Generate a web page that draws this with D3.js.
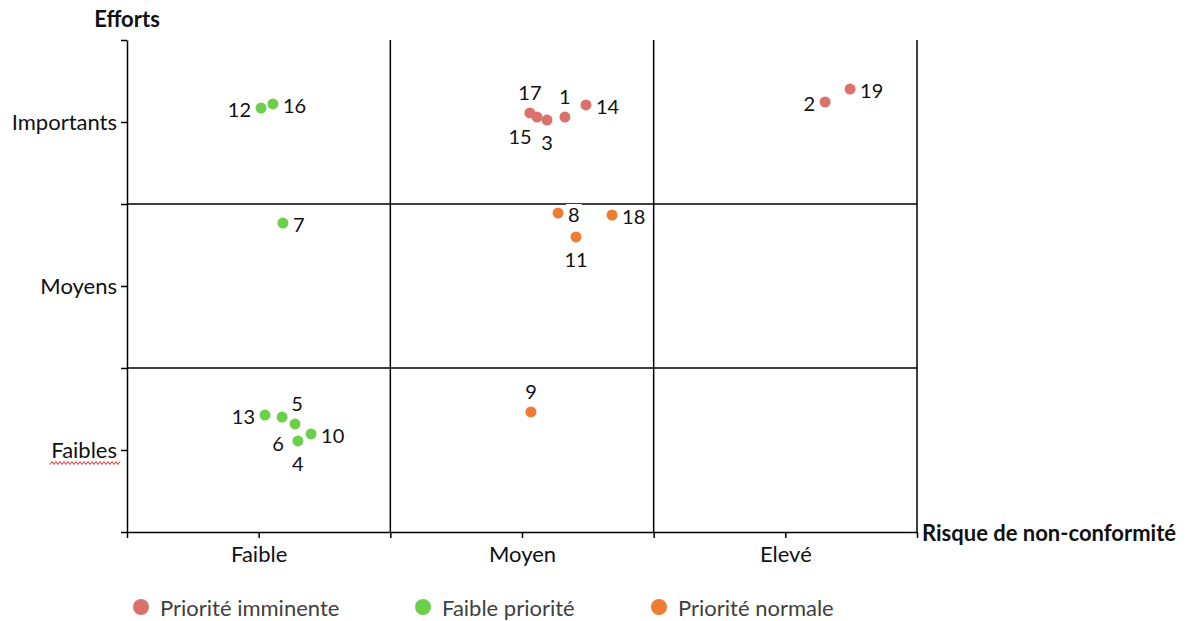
<!DOCTYPE html>
<html><head><meta charset="utf-8">
<script src="https://cdn.jsdelivr.net/npm/d3@7"></script>
<style>
body{margin:0;background:#fff;}
svg text{font-family:Lato,"Open Sans",sans-serif;}
</style></head>
<body><svg id="chart" width="1188" height="621"></svg>
<script>
// ---- data ----
const riskCategories = ['Faible', 'Moyen', 'Elevé'];
const effortCategories = ['Faibles', 'Moyens', 'Importants'];
const pointIds =    [1, 2, 3, 4, 5, 6, 7, 8, 9, 10, 11, 12, 13, 14, 15, 16, 17, 18, 19];
const riskValues =  [1.663, 2.651, 1.595, 0.649, 0.589, 0.638, 0.592, 1.637, 1.534, 0.699, 1.705, 0.509, 0.524, 1.743, 1.557, 0.554, 1.530, 1.842, 2.746];
const effortValues =[2.530, 2.622, 2.512, 0.555, 0.701, 0.659, 1.884, 1.945, 0.732, 0.598, 1.799, 2.585, 0.713, 2.604, 2.530, 2.610, 2.555, 1.933, 2.701];
const priorities =  ['imm','imm','imm','fai','fai','fai','fai','nor','nor','fai','nor','fai','fai','imm','imm','fai','imm','nor','imm'];
const labelPlacement = ['above','left','below','below','aboveRight','belowLeft','right','right','above','right','below','left','left','right','belowLeft','right','above','right','right'];
const seriesKeys = ['imm', 'fai', 'nor'];
const seriesNames = ['Priorité imminente', 'Faible priorité', 'Priorité normale'];
const seriesColors = ['#db716d', '#6ccf4a', '#ee7d31'];

// ---- layout ----
const svg = d3.select('#chart');
const x = d3.scaleLinear().domain([0, 3]).range([127, 917]);
const y = d3.scaleLinear().domain([0, 3]).range([532, 40]);
const color = d3.scaleOrdinal().domain(seriesKeys).range(seriesColors);
const FS = 20;    // data labels
const AFS = 22;   // axis text

// grid (quadrant) lines
const g = svg.append('g');
[1, 2, 3].forEach(v => g.append('line').attr('x1', x(v)).attr('x2', x(v)).attr('y1', y(3)).attr('y2', y(0))
  .attr('stroke', '#000').attr('stroke-width', 1.5));
[1, 2].forEach(v => g.append('line').attr('x1', x(0)).attr('x2', x(3)).attr('y1', y(v)).attr('y2', y(v))
  .attr('stroke', '#000').attr('stroke-width', 1.5));

// axes
const tickVals = [0, 0.5, 1, 1.5, 2, 2.5, 3];
const yAxis = d3.axisLeft(y).tickValues(tickVals).tickSize(6).tickSizeOuter(0)
  .tickFormat(d => (d % 1 === 0.5) ? effortCategories[Math.floor(d)] : '');
const xAxis = d3.axisBottom(x).tickValues(tickVals).tickSize(6).tickSizeOuter(0)
  .tickFormat(d => (d % 1 === 0.5) ? riskCategories[Math.floor(d)] : '');
const ya = svg.append('g').attr('transform', `translate(${x(0)},0)`).call(yAxis);
const xa = svg.append('g').attr('transform', `translate(0,${y(0)})`).call(xAxis);
[ya, xa].forEach(a => {
  a.selectAll('path, line').attr('stroke', '#000').attr('stroke-width', 1.5);
  a.selectAll('text').attr('font-size', AFS).attr('fill', '#111').attr('font-family', 'Lato');
});
ya.selectAll('text').attr('x', -10);
xa.selectAll('text').attr('y', 14);

// spell-check squiggle under "Faibles"
const sq = d3.range(0, 36).map(i => [50 + i * 2, 463 + (i % 2 ? -1.5 : 1.5)]);
svg.append('path').attr('d', d3.line()(sq)).attr('fill', 'none').attr('stroke', '#e03030').attr('stroke-width', 1);

// axis titles
svg.append('text').attr('x', x(0)).attr('y', 18).attr('text-anchor', 'middle').attr('dominant-baseline', 'central')
  .attr('font-weight', 'bold').attr('font-size', AFS).attr('fill', '#111').text('Efforts');
svg.append('text').attr('x', x(3) + 5).attr('y', y(0)).attr('dominant-baseline', 'central')
  .attr('font-weight', 'bold').attr('font-size', AFS).attr('fill', '#111').text('Risque de non-conformité');

// data labels (with white background like the source)
const offsets = {
  right: [10, 1, 'start'], left: [-10, 1, 'end'], above: [0, -21, 'middle'], below: [0, 22, 'middle'],
  belowLeft: [-17, 19, 'middle'], aboveRight: [15, -14, 'middle']
};
const pts = pointIds.map((id, i) => ({ id, rx: riskValues[i], ey: effortValues[i], p: priorities[i], pos: labelPlacement[i] }));
const lg = svg.append('g');
pts.forEach(d => {
  const o = offsets[d.pos];
  const t = lg.append('text').attr('x', x(d.rx) + o[0]).attr('y', y(d.ey) + o[1])
    .attr('text-anchor', o[2]).attr('dominant-baseline', 'central')
    .attr('font-size', FS).attr('fill', '#111').text(d.id);
  const bb = t.node().getBBox();
  lg.insert('rect', () => t.node()).attr('x', bb.x - 2).attr('y', bb.y + 2).attr('width', bb.width + 4).attr('height', bb.height - 4).attr('fill', '#fff');
});

// points
svg.append('g').selectAll('circle').data(pts).join('circle')
  .attr('cx', d => x(d.rx)).attr('cy', d => y(d.ey)).attr('r', 5.5).attr('fill', d => color(d.p));

// legend
const legX = [141, 423, 659];
const leg = svg.append('g');
seriesKeys.forEach((k, i) => {
  leg.append('circle').attr('cx', legX[i]).attr('cy', 607).attr('r', 8).attr('fill', color(k));
  leg.append('text').attr('x', legX[i] + 19).attr('y', 607).attr('dominant-baseline', 'central')
    .attr('font-size', 22).attr('fill', '#404040').text(seriesNames[i]);
});
</script></body></html>
